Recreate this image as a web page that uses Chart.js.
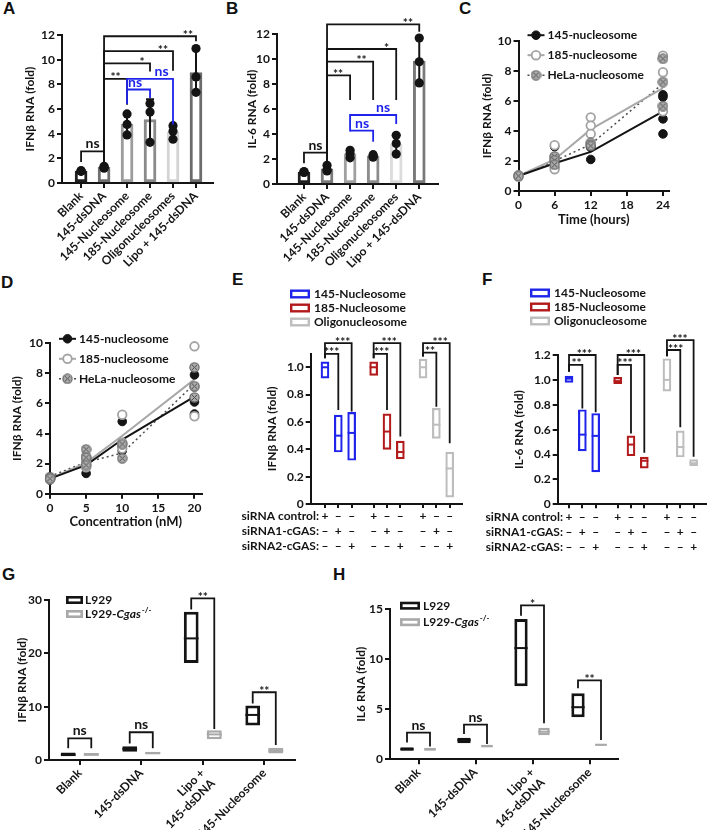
<!DOCTYPE html>
<html lang="en">
<head>
<meta charset="utf-8">
<title>cGAS nucleosome panels</title>
<script src="https://cdn.jsdelivr.net/npm/chart.js@4.4.1/dist/chart.umd.min.js"></script>
<style>
  html, body { margin: 0; padding: 0; background: #fff; }
  #fig { position: relative; width: 708px; height: 830px; overflow: hidden; }
  #fig canvas { position: absolute; }
  .tag { position: absolute; font: bold 17px "Liberation Sans", Arial, sans-serif; line-height: 17px; color: #111; }
</style>
</head>
<body>
<div id="fig">
  <div class="tag" style="left:3px;top:0px">A</div>
  <div class="tag" style="left:226px;top:0px">B</div>
  <div class="tag" style="left:459px;top:0px">C</div>
  <div class="tag" style="left:1px;top:274px">D</div>
  <div class="tag" style="left:232px;top:271px">E</div>
  <div class="tag" style="left:482px;top:271px">F</div>
  <div class="tag" style="left:2px;top:566px">G</div>
  <div class="tag" style="left:333px;top:566px">H</div>
  <canvas id="chartA"></canvas>
  <canvas id="chartB"></canvas>
  <canvas id="chartC"></canvas>
  <canvas id="chartD"></canvas>
  <canvas id="chartE"></canvas>
  <canvas id="chartF"></canvas>
  <canvas id="chartG"></canvas>
  <canvas id="chartH"></canvas>
</div>
<script>
// ---------- data ----------
const abLabels = ['Blank', '145-dsDNA', '145-Nucleosome', '185-Nucleosome', 'Oligonucleosomes', 'Lipo + 145-dsDNA'];

// A: IFNb RNA (fold)
const aMean = [0.97, 1.27, 4.75, 5.15, 4.12, 8.95];
const aErrLo = [0.92, 1.18, 3.85, 3.35, 3.55, 7.3];
const aErrHi = [1.02, 1.36, 5.6, 6.8, 4.65, 10.9];
const aDots = [[1.0, 0.95, 0.97], [1.35, 1.2, 1.27], [5.6, 4.75, 3.9], [6.45, 5.75, 3.3], [4.65, 4.2, 3.55], [10.9, 8.6, 7.35]];

// B: IL-6 RNA (fold)
const bMean = [0.95, 1.22, 2.42, 2.25, 3.18, 9.85];
const bErrLo = [0.9, 1.05, 2.1, 2.15, 2.4, 8.1];
const bErrHi = [1.0, 1.5, 2.7, 2.35, 3.95, 11.7];
const bDots = [[1.0, 0.92, 0.95], [1.5, 1.15, 1.05], [2.7, 2.45, 2.1], [2.35, 2.25, 2.15], [3.9, 3.25, 2.4], [11.7, 9.8, 8.1]];

// C: time course
const cTimes = [0, 6, 12, 24];
const c145Mean = [1.0, 1.85, 2.6, 5.3];
const c185Mean = [1.0, 2.1, 4.1, 6.85];
const cHelaMean = [1.0, 2.0, 3.1, 7.15];
const c145Reps = [[1.05, 0.95], [2.95, 2.0, 1.55], [3.0, 2.9, 2.1], [6.4, 6.25, 4.8, 3.8]];
const c185Reps = [[1.05, 0.95], [3.05, 2.2, 1.45], [4.9, 4.35, 3.8], [9.0, 7.9, 5.3]];
const cHelaReps = [[1.0], [2.3, 2.05, 1.75], [3.2, 3.0], [8.8, 7.25, 5.65]];

// D: dose response
const dConc = [0, 5, 10, 20];
const d145Mean = [1.0, 1.9, 3.6, 6.45];
const d185Mean = [1.0, 2.05, 3.85, 7.6];
const dHelaMean = [1.15, 2.1, 2.7, 7.3];
const d145Reps = [[1.1, 0.9], [2.4, 1.9, 1.35], [4.8, 3.15, 2.85], [7.9, 6.1, 5.3]];
const d185Reps = [[1.05, 0.95], [2.5, 2.1, 1.75], [5.25, 3.4, 3.0], [9.8, 7.1, 5.15]];
const dHelaReps = [[1.1, 1.0], [2.95, 2.4, 1.9], [3.3, 2.35], [8.4, 7.15, 6.4]];

// E / F: siRNA knock-down, min-max boxes with mean line
const slotX = [0, 1, 2, 3.65, 4.65, 5.65, 7.35, 8.35, 9.35];
const siControl = ['+', '–', '–', '+', '–', '–', '+', '–', '–'];
const si1 = ['–', '+', '–', '–', '+', '–', '–', '+', '–'];
const si2 = ['–', '–', '+', '–', '–', '+', '–', '–', '+'];

const eLow145 = [0.92, 0.38, 0.32], eHigh145 = [1.04, 0.65, 0.67], eMid145 = [1.0, 0.5, 0.52];
const eLow185 = [0.94, 0.40, 0.33], eHigh185 = [1.04, 0.66, 0.46], eMid185 = [1.0, 0.53, 0.38];
const eLowOligo = [0.92, 0.48, 0.05], eHighOligo = [1.06, 0.70, 0.38], eMidOligo = [1.0, 0.58, 0.26];

const fLow145 = [0.98, 0.43, 0.26], fHigh145 = [1.03, 0.76, 0.73], fMid145 = [1.01, 0.56, 0.55];
const fLow185 = [0.97, 0.39, 0.29], fHigh185 = [1.02, 0.55, 0.38], fMid185 = [0.99, 0.48, 0.35];
const fLowOligo = [0.91, 0.38, 0.31], fHighOligo = [1.17, 0.59, 0.36], fMidOligo = [1.0, 0.46, 0.33];

// G / H: L929 vs L929-Cgas-/-
const ghLabels = ['Blank', '145-dsDNA', ['Lipo +', '145-dsDNA'], '145-Nucleosome'];
const gL929Low = [0.7, 1.55, 18.2, 6.45], gL929High = [1.4, 2.6, 27.8, 10.2], gL929Mid = [1.0, 2.1, 22.8, 8.45];
const gCgasLow = [0.8, 1.05, 3.9, 1.2], gCgasHigh = [1.3, 1.55, 5.6, 2.3], gCgasMid = [1.0, 1.3, 4.8, 1.75];
const hL929Low = [0.85, 1.6, 7.3, 4.2], hL929High = [1.2, 2.15, 14.0, 6.6], hL929Mid = [1.0, 1.9, 11.1, 5.2];
const hCgasLow = [0.85, 1.2, 2.4, 1.35], hCgasHigh = [1.15, 1.45, 3.15, 1.55], hCgasMid = [1.0, 1.3, 2.75, 1.45];

// ---------- styling ----------
const FF = 'Lato, "Open Sans", "DejaVu Sans", sans-serif';
const INK = '#141414';
const BLUE = '#1f24ea';
const RED = '#b31a1c';
const LGRAY = '#bdbdbd';
const GGRAY = '#a9a9a9';
const aColors = ['#202020', '#707070', '#9c9c9c', '#8a8a8a', '#d4d4d4', '#6c6c6c'];
const bColors = ['#202020', '#7a7a7a', '#a0a0a0', '#8c8c8c', '#dcdcdc', '#7a7a7a'];

Chart.defaults.font.family = FF;
Chart.defaults.color = INK;
Chart.defaults.events = [];

const tickFont = { family: FF, size: 12, weight: 'bold' };
const titleFont = { family: FF, size: 12, weight: 'bold' };
const xTitleFont = { family: FF, size: 13, weight: 'bold' };

// HeLa marker: grey disc with a cross
function helaMarker() {
  const c = document.createElement('canvas');
  c.width = 11; c.height = 11;
  const g = c.getContext('2d');
  g.fillStyle = '#ababab'; g.strokeStyle = '#6a6a6a'; g.lineWidth = 1.2;
  g.beginPath(); g.arc(5.5, 5.5, 4.6, 0, Math.PI * 2); g.fill(); g.stroke();
  g.strokeStyle = '#505050'; g.lineWidth = 1;
  g.beginPath(); g.moveTo(3, 3); g.lineTo(8, 8); g.moveTo(8, 3); g.lineTo(3, 8); g.stroke();
  return c;
}
const HELA_IMG = helaMarker();

const M145 = { fill: INK, stroke: INK, lw: 1 };
const M185 = { fill: '#fff', stroke: '#a3a3a3', lw: 1.8 };
const MHELA = { img: HELA_IMG };

function drawMarker(ctx, m, x, y) {
  if (m.img) { ctx.drawImage(m.img, x - m.img.width / 2, y - m.img.height / 2); return; }
  ctx.fillStyle = m.fill; ctx.strokeStyle = m.stroke; ctx.lineWidth = m.lw;
  ctx.beginPath(); ctx.arc(x, y, 4.3, 0, Math.PI * 2); ctx.fill(); ctx.stroke();
}

// annotation layer: error bars, mean lines, significance brackets, legends
function marks(spec) {
  return {
    id: 'marks',
    afterDatasetsDraw(chart) {
      const ctx = chart.ctx, xs = chart.scales.x, ys = chart.scales.y, ca = chart.chartArea;
      const px = v => Array.isArray(v) ? chart.getDatasetMeta(v[0]).data[v[1]].x : xs.getPixelForValue(v);
      const py = v => ys.getPixelForValue(v);
      ctx.save();

      if (spec.errors) {
        const e = spec.errors;
        ctx.strokeStyle = INK; ctx.lineWidth = 2;
        e.lo.forEach((lo, i) => {
          const x = px(i), a = py(lo), b = py(e.hi[i]);
          ctx.beginPath();
          ctx.moveTo(x, a); ctx.lineTo(x, b);
          ctx.moveTo(x - 4, a); ctx.lineTo(x + 4, a);
          ctx.moveTo(x - 4, b); ctx.lineTo(x + 4, b);
          ctx.stroke();
        });
      }

      (spec.medians || []).forEach(m => {
        const meta = chart.getDatasetMeta(m.ds);
        ctx.strokeStyle = m.color; ctx.lineWidth = m.lw || 2;
        m.values.forEach((v, i) => {
          const el = meta.data[i], h = el.width / 2;
          ctx.beginPath(); ctx.moveTo(el.x - h, py(v)); ctx.lineTo(el.x + h, py(v)); ctx.stroke();
        });
      });

      (spec.brackets || []).forEach(b => {
        const x1 = px(b.x1), x2 = px(b.x2), y = py(b.y), col = b.color || INK;
        ctx.strokeStyle = col; ctx.lineWidth = 1.8; ctx.lineJoin = 'miter';
        ctx.beginPath();
        ctx.moveTo(x1, py(b.y1)); ctx.lineTo(x1, y); ctx.lineTo(x2, y); ctx.lineTo(x2, py(b.y2));
        ctx.stroke();
        const tx = b.tx === undefined ? (x1 + x2) / 2 : px(b.tx);
        ctx.fillStyle = col; ctx.textAlign = 'center'; ctx.textBaseline = 'alphabetic';
        if (b.text === 'ns') { ctx.font = 'bold 14px ' + FF; ctx.fillText('ns', tx, y - 3); }
        else { ctx.font = 'bold 12px ' + FF; ctx.fillText(b.text, tx, y + 2.5); }
      });

      if (spec.boxLegend) {
        const L = spec.boxLegend;
        L.items.forEach((it, k) => {
          const cy = ca.top + L.y + k * L.gap;
          ctx.strokeStyle = it.color; ctx.lineWidth = L.lw;
          ctx.strokeRect(ca.left + L.bx + L.lw / 2, cy - L.bh / 2 + L.lw / 2, L.bw - L.lw, L.bh - L.lw);
          let cx = ca.left + L.tx;
          ctx.fillStyle = INK; ctx.textAlign = 'left'; ctx.textBaseline = 'middle';
          it.parts.forEach(([t, st]) => {
            ctx.font = (st === 'italic' ? 'italic bold 12px ' : st === 'sup' ? 'bold 8px ' : 'bold 12px ') + FF;
            ctx.fillText(t, cx, st === 'sup' ? cy - 4 : cy);
            cx += ctx.measureText(t).width + (st === 'italic' ? 1 : 0);
          });
        });
      }

      if (spec.lineLegend) {
        const L = spec.lineLegend;
        L.items.forEach((it, k) => {
          const cy = ca.top + L.y + k * L.gap;
          ctx.strokeStyle = it.color; ctx.lineWidth = it.width; ctx.setLineDash(it.dash || []);
          ctx.beginPath(); ctx.moveTo(ca.left + L.x1, cy); ctx.lineTo(ca.left + L.x2, cy); ctx.stroke();
          ctx.setLineDash([]);
          drawMarker(ctx, it.marker, ca.left + L.mx, cy);
          ctx.fillStyle = INK; ctx.font = 'bold 12px ' + FF; ctx.textAlign = 'left'; ctx.textBaseline = 'middle';
          ctx.fillText(it.text, ca.left + L.tx, cy);
        });
      }

      if (spec.rowHeads) {
        const R = spec.rowHeads;
        ctx.fillStyle = INK; ctx.font = 'bold 12px ' + FF; ctx.textAlign = 'right'; ctx.textBaseline = 'middle';
        const x = px(R.at) - R.gap;
        R.rows.forEach((t, i) => ctx.fillText(t, x, ca.bottom + R.tl + R.lh / 2 + i * R.lh));
      }
      ctx.restore();
    }
  };
}

// geometry: g = canvas box + wanted plot area, all in page pixels
function makeChart(id, g, cfg, spec) {
  const cv = document.getElementById(id);
  cv.width = g.w; cv.height = g.h;
  cv.style.left = g.x + 'px'; cv.style.top = g.y + 'px';
  const o = cfg.options;
  o.responsive = false;
  o.animation = false;
  o.layout = { padding: { left: 0, top: g.top - g.y, right: g.x + g.w - g.right, bottom: 0 } };
  o.plugins = { legend: { display: false }, tooltip: { enabled: false } };
  const yW = g.x0 - g.x, xH = g.y + g.h - g.bottom;
  o.scales.y.afterFit = s => { s.width = yW; };
  o.scales.x.afterFit = s => { s.height = xH; };
  cfg.plugins = [marks(spec || {})];
  return new Chart(cv, cfg);
}

function axisY(max, step, title, titlePad, fmt) {
  return {
    type: 'linear', min: 0, max: max,
    border: { color: INK, width: 2 },
    grid: { drawOnChartArea: false, color: INK, lineWidth: 2, tickLength: 5 },
    ticks: { stepSize: step, includeBounds: false, color: INK, padding: 2, font: tickFont, callback: fmt || (v => v) },
    title: { display: true, text: title, color: INK, font: titleFont, padding: { top: titlePad, bottom: 0 } }
  };
}

function baseX() {
  return {
    offset: false,
    border: { color: INK, width: 2 },
    grid: { drawOnChartArea: false, offset: false, color: INK, lineWidth: 2, tickLength: 5 }
  };
}

function labelledX(labels, min, max) {
  return Object.assign(baseX(), {
    type: 'linear', min: min, max: max,
    afterBuildTicks: s => { s.ticks = labels.map((_, i) => ({ value: i })); },
    ticks: { autoSkip: false, minRotation: 45, maxRotation: 45, color: INK, padding: 1, font: tickFont, callback: (v, i) => labels[i] }
  });
}

function numX(max, step, title) {
  return Object.assign(baseX(), {
    type: 'linear', min: 0, max: max,
    ticks: { stepSize: step, includeBounds: false, maxRotation: 0, color: INK, padding: 2, font: tickFont },
    title: { display: true, text: title, color: INK, font: xTitleFont, padding: { top: 0, bottom: 0 } }
  });
}

function slotAxis(min, max) {
  const ax = Object.assign(baseX(), {
    type: 'linear', min: min, max: max,
    afterBuildTicks: s => { s.ticks = slotX.map(v => ({ value: v })); },
    ticks: {
      autoSkip: false, minRotation: 0, maxRotation: 0, color: INK, padding: 1,
      font: { family: FF, size: 12, weight: 'bold', lineHeight: 1.25 },
      callback: (v, i) => [siControl[i], si1[i], si2[i]]
    }
  });
  ax.grid.tickLength = 4;
  return ax;
}

function catX(labels) {
  return Object.assign(baseX(), {
    type: 'category', labels: labels, offset: true,
    ticks: { autoSkip: false, minRotation: 45, maxRotation: 45, color: INK, padding: 1, font: tickFont }
  });
}

const dotPoints = reps => reps.flatMap((arr, i) => arr.map(v => ({ x: i, y: v })));
const repPoints = (xs, reps) => reps.flatMap((arr, i) => arr.map(v => ({ x: xs[i], y: v })));
const meanPoints = (xs, ys) => ys.map((v, i) => ({ x: xs[i], y: v }));
const fmt1 = v => v === 0 ? '0' : v.toFixed(1);

function dotSet(points) {
  return { type: 'scatter', data: points, pointRadius: 4.6, backgroundColor: INK, borderColor: INK, borderWidth: 0, clip: false };
}
function barSet(means, colors) {
  return { type: 'bar', data: means.map((v, i) => ({ x: i, y: v })), backgroundColor: '#fff', borderColor: colors,
           borderWidth: 3, borderSkipped: false, barThickness: 12, clip: false };
}
function scatterSet(points, m) {
  if (m.img) return { type: 'scatter', data: points, pointStyle: m.img, clip: false };
  return { type: 'scatter', data: points, pointRadius: 4.3, backgroundColor: m.fill, borderColor: m.stroke, borderWidth: m.lw, clip: false };
}
function lineSet(points, color, width, dash) {
  return { type: 'line', data: points, borderColor: color, borderWidth: width, borderDash: dash || [], pointRadius: 0, tension: 0, fill: false, clip: false };
}
function boxSet(xs, lo, hi, color) {
  return { data: xs.map((x, i) => ({ x: x, y: [lo[i], hi[i]] })), backgroundColor: '#fff', borderColor: color,
           borderWidth: 2.2, borderSkipped: false, barThickness: 8, grouped: false, clip: false };
}
function pairSet(lo, hi, color, bw, pct, cat) {
  return { data: lo.map((v, i) => [v, hi[i]]), backgroundColor: '#fff', borderColor: color, borderWidth: bw,
           borderSkipped: false, barPercentage: pct, categoryPercentage: cat, clip: false };
}

// ---------- A ----------
makeChart('chartA', { x: 23, y: 8, w: 209, h: 272, x0: 62, top: 35, right: 213, bottom: 183 }, {
  type: 'bar',
  data: { datasets: [dotSet(dotPoints(aDots)), barSet(aMean, aColors)] },
  options: { scales: { x: labelledX(abLabels, -0.83, 5.74), y: axisY(12, 2, 'IFNβ RNA (fold)', 0) } }
}, {
  errors: { lo: aErrLo, hi: aErrHi },
  brackets: [
    { x1: 0, x2: 1, y: 2.57, y1: 1.7, y2: 1.7, text: 'ns' },
    { x1: 1, x2: 5, y: 11.9, y1: 1.6, y2: 11.5, text: '**', tx: 4.65 },
    { x1: 1, x2: 4, y: 10.7, y1: 1.6, y2: 9.1, text: '**', tx: 3.56 },
    { x1: 1, x2: 3, y: 9.7, y1: 1.6, y2: 9.05, text: '*', tx: 2.65 },
    { x1: 1, x2: 2, y: 8.44, y1: 1.6, y2: 6.35, text: '**' },
    { x1: 2, x2: 4, y: 8.44, y1: 6.4, y2: 4.75, text: 'ns', tx: 3.5, color: BLUE },
    { x1: 2, x2: 3, y: 7.58, y1: 7.58, y2: 6.9, text: 'ns', tx: 2.35, color: BLUE }
  ]
});

// ---------- B ----------
makeChart('chartB', { x: 240, y: 8, w: 212, h: 272, x0: 277, top: 34.3, right: 437.7, bottom: 184 }, {
  type: 'bar',
  data: { datasets: [dotSet(dotPoints(bDots)), barSet(bMean, bColors)] },
  options: { scales: { x: labelledX(abLabels, -1.17, 5.8), y: axisY(12, 2, 'IL-6 RNA (fold)', 4.5) } }
}, {
  errors: { lo: bErrLo, hi: bErrHi },
  brackets: [
    { x1: 0, x2: 1, y: 2.51, y1: 1.66, y2: 1.66, text: 'ns' },
    { x1: 1, x2: 5, y: 12.8, y1: 1.66, y2: 12.2, text: '**', tx: 4.51 },
    { x1: 1, x2: 4, y: 10.82, y1: 1.66, y2: 6.73, text: '*', tx: 3.58 },
    { x1: 1, x2: 3, y: 9.81, y1: 1.66, y2: 6.73, text: '**', tx: 2.5 },
    { x1: 1, x2: 2, y: 8.71, y1: 1.66, y2: 6.73, text: '**', tx: 1.48 },
    { x1: 2, x2: 4, y: 5.53, y1: 4.2, y2: 4.81, text: 'ns', tx: 3.43, color: BLUE },
    { x1: 2, x2: 3, y: 4.28, y1: 4.28, y2: 3.39, text: 'ns', tx: 2.52, color: BLUE }
  ]
});

// ---------- C / D ----------
const lineLegendItems = [
  { text: '145-nucleosome', color: INK, width: 2, marker: M145 },
  { text: '185-nucleosome', color: '#a8a8a8', width: 2, marker: M185 },
  { text: 'HeLa-nucleosome', color: '#4d4d4d', width: 1.5, dash: [2, 3], marker: MHELA }
];

function curveData(xs, m145, m185, mHela, r145, r185, rHela) {
  return { datasets: [
    scatterSet(repPoints(xs, rHela), MHELA),
    scatterSet(repPoints(xs, r185), M185),
    scatterSet(repPoints(xs, r145), M145),
    lineSet(meanPoints(xs, m145), INK, 2),
    lineSet(meanPoints(xs, m185), '#a8a8a8', 2),
    lineSet(meanPoints(xs, mHela), '#4d4d4d', 1.5, [2, 3])
  ] };
}

makeChart('chartC', { x: 470, y: 20, w: 235, h: 208, x0: 518.5, top: 40.7, right: 669, bottom: 191 }, {
  type: 'line',
  data: curveData(cTimes, c145Mean, c185Mean, cHelaMean, c145Reps, c185Reps, cHelaReps),
  options: { scales: { x: numX(25, 6, 'Time (hours)'), y: axisY(10, 2, 'IFNβ RNA (fold)', 9.8) } }
}, { lineLegend: { x1: 9, x2: 26, mx: 17.5, tx: 29, y: -5.5, gap: 20, items: lineLegendItems } });

makeChart('chartD', { x: 2, y: 322, w: 220, h: 208, x0: 50, top: 343.3, right: 201.7, bottom: 493.7 }, {
  type: 'line',
  data: curveData(dConc, d145Mean, d185Mean, dHelaMean, d145Reps, d185Reps, dHelaReps),
  options: { scales: { x: numX(21, 5, 'Concentration (nM)'), y: axisY(10, 2, 'IFNβ RNA (fold)', 7.8) } }
}, { lineLegend: { x1: 9, x2: 26, mx: 17.5, tx: 29, y: -4.5, gap: 20, items: lineLegendItems } });

// ---------- E / F ----------
const siRows = ['siRNA control:', 'siRNA1-cGAS:', 'siRNA2-cGAS:'];
const nucLegend = [
  { color: BLUE, parts: [['145-Nucleosome']] },
  { color: RED, parts: [['185-Nucleosome']] },
  { color: LGRAY, parts: [['Oligonucleosome']] }
];

makeChart('chartE', { x: 236, y: 285, w: 236, h: 272, x0: 310.7, top: 353.6, right: 461.7, bottom: 504 }, {
  type: 'bar',
  data: { datasets: [
    boxSet(slotX.slice(0, 3), eLow145, eHigh145, BLUE),
    boxSet(slotX.slice(3, 6), eLow185, eHigh185, RED),
    boxSet(slotX.slice(6, 9), eLowOligo, eHighOligo, LGRAY)
  ] },
  options: { scales: { x: slotAxis(-1.07, 10.25), y: axisY(1.1, 0.2, 'IFNβ RNA (fold)', 28.8, fmt1) } }
}, {
  medians: [
    { ds: 0, values: eMid145, color: BLUE },
    { ds: 1, values: eMid185, color: RED },
    { ds: 2, values: eMidOligo, color: LGRAY }
  ],
  brackets: [
    { x1: 0, x2: 2, y: 1.176, y1: 1.066, y2: 0.676, text: '***', tx: 1.33 },
    { x1: 0, x2: 1, y: 1.098, y1: 1.066, y2: 0.688, text: '***', tx: 0.5 },
    { x1: 3.65, x2: 5.65, y: 1.176, y1: 1.066, y2: 0.493, text: '***', tx: 4.82 },
    { x1: 3.65, x2: 4.65, y: 1.098, y1: 1.066, y2: 0.688, text: '***', tx: 4.25 },
    { x1: 7.35, x2: 9.35, y: 1.176, y1: 1.078, y2: 0.444, text: '***', tx: 8.63 },
    { x1: 7.35, x2: 8.35, y: 1.107, y1: 1.078, y2: 0.712, text: '**', tx: 7.88 }
  ],
  boxLegend: { bx: -20.7, bw: 20, bh: 9, lw: 2.4, tx: 3.3, y: -59.6, gap: 14, items: nucLegend },
  rowHeads: { rows: siRows, at: 0, gap: 6, lh: 15, tl: 5 }
});

makeChart('chartF', { x: 478, y: 285, w: 230, h: 272, x0: 557.7, top: 355, right: 706, bottom: 504.3 }, {
  type: 'bar',
  data: { datasets: [
    boxSet(slotX.slice(0, 3), fLow145, fHigh145, BLUE),
    boxSet(slotX.slice(3, 6), fLow185, fHigh185, RED),
    boxSet(slotX.slice(6, 9), fLowOligo, fHighOligo, LGRAY)
  ] },
  options: { scales: { x: slotAxis(-0.85, 10.28), y: axisY(1.2, 0.2, 'IL-6 RNA (fold)', 33.8, fmt1) } }
}, {
  medians: [
    { ds: 0, values: fMid145, color: BLUE },
    { ds: 1, values: fMid185, color: RED },
    { ds: 2, values: fMidOligo, color: LGRAY }
  ],
  brackets: [
    { x1: 0, x2: 2, y: 1.2, y1: 1.066, y2: 0.739, text: '***', tx: 1.15 },
    { x1: 0, x2: 1, y: 1.12, y1: 1.066, y2: 0.77, text: '**', tx: 0.57 },
    { x1: 3.65, x2: 5.65, y: 1.2, y1: 1.04, y2: 0.415, text: '***', tx: 4.83 },
    { x1: 3.65, x2: 4.65, y: 1.12, y1: 1.04, y2: 0.57, text: '***', tx: 4.2 },
    { x1: 7.35, x2: 9.35, y: 1.32, y1: 1.19, y2: 0.383, text: '***', tx: 8.33 },
    { x1: 7.35, x2: 8.35, y: 1.24, y1: 1.19, y2: 0.62, text: '***', tx: 8.0 }
  ],
  boxLegend: { bx: -27.7, bw: 20, bh: 9, lw: 2.4, tx: -3.7, y: -62, gap: 14, items: nucLegend },
  rowHeads: { rows: siRows, at: 0, gap: 6, lh: 15, tl: 5 }
});

// ---------- G / H ----------
const cellLegend = [
  { color: INK, parts: [['L929']] },
  { color: GGRAY, parts: [['L929-'], ['Cgas', 'italic'], ['-/-', 'sup']] }
];

makeChart('chartG', { x: 12, y: 585, w: 330, h: 245, x0: 49, top: 600, right: 295, bottom: 760 }, {
  type: 'bar',
  data: { labels: ghLabels, datasets: [
    pairSet(gL929Low, gL929High, INK, 3, 0.64, 0.75),
    pairSet(gCgasLow, gCgasHigh, GGRAY, 2.5, 0.65, 0.75)
  ] },
  options: { scales: { x: catX(ghLabels), y: axisY(30, 10, 'IFNβ RNA (fold)', 2.5) } }
}, {
  medians: [
    { ds: 0, values: gL929Mid, color: INK },
    { ds: 1, values: gCgasMid, color: GGRAY }
  ],
  brackets: [
    { x1: [0, 0], x2: [1, 0], y: 4.06, y1: 2.2, y2: 2.2, text: 'ns' },
    { x1: [0, 1], x2: [1, 1], y: 5.2, y1: 3.1, y2: 2.2, text: 'ns' },
    { x1: [0, 2], x2: [1, 2], y: 30.3, y1: 28.2, y2: 5.8, text: '**' },
    { x1: [0, 3], x2: [1, 3], y: 12.7, y1: 10.6, y2: 2.8, text: '**' }
  ],
  boxLegend: { bx: 17, bw: 17, bh: 8, lw: 2.6, tx: 36, y: 0, gap: 14, items: cellLegend }
});

makeChart('chartH', { x: 348, y: 585, w: 300, h: 245, x0: 390, top: 609, right: 618, bottom: 759.3 }, {
  type: 'bar',
  data: { labels: ghLabels, datasets: [
    pairSet(hL929Low, hL929High, INK, 3, 0.58, 0.807),
    pairSet(hCgasLow, hCgasHigh, GGRAY, 2.5, 0.5, 0.807)
  ] },
  options: { scales: { x: catX(ghLabels), y: axisY(15, 5, 'IL6 RNA (fold)', 5.8) } }
}, {
  medians: [
    { ds: 0, values: hL929Mid, color: INK },
    { ds: 1, values: hCgasMid, color: GGRAY }
  ],
  brackets: [
    { x1: [0, 0], x2: [1, 0], y: 2.67, y1: 1.67, y2: 1.27, text: 'ns' },
    { x1: [0, 1], x2: [1, 1], y: 3.47, y1: 2.53, y2: 1.53, text: 'ns' },
    { x1: [0, 2], x2: [1, 2], y: 15.37, y1: 14.33, y2: 3.6, text: '*' },
    { x1: [0, 3], x2: [1, 3], y: 7.87, y1: 7.1, y2: 1.93, text: '**' }
  ],
  boxLegend: { bx: 10, bw: 20, bh: 8, lw: 2.6, tx: 33, y: -3.3, gap: 16.5, items: cellLegend }
});
</script>
</body>
</html>
